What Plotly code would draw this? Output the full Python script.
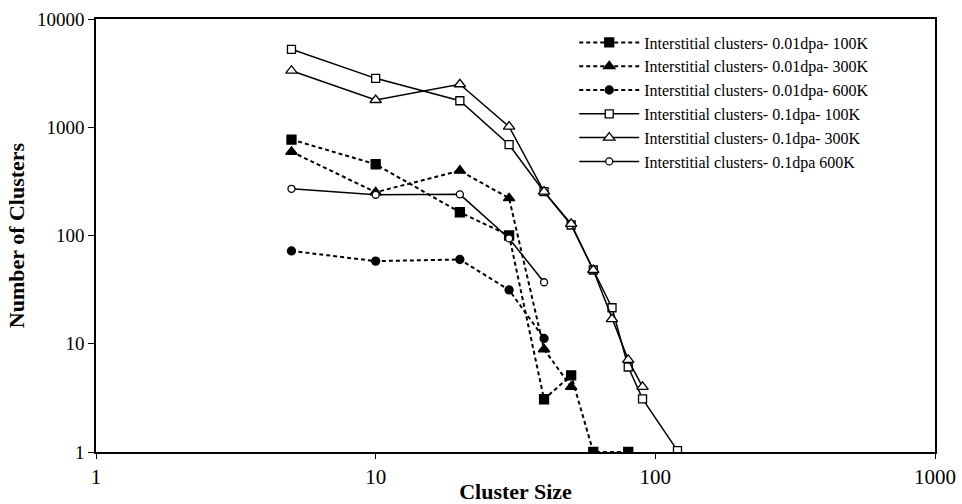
import plotly.graph_objects as go

# ---- data ----
names = [
    "Interstitial clusters- 0.01dpa- 100K",
    "Interstitial clusters- 0.01dpa- 300K",
    "Interstitial clusters- 0.01dpa- 600K",
    "Interstitial clusters- 0.1dpa- 100K",
    "Interstitial clusters- 0.1dpa- 300K",
    "Interstitial clusters- 0.1dpa 600K",
]
size_001_100 = [5, 10, 20, 30, 40, 50, 60, 80]
count_001_100 = [770, 455, 164, 100, 3.07, 5.1, 1, 1]
size_001_300 = [5, 10, 20, 30, 40, 50]
count_001_300 = [594, 251, 397, 221, 8.9, 4.0]
size_001_600 = [5, 10, 20, 30, 40]
count_001_600 = [72, 58, 60, 31.4, 11.2]
size_01_100 = [5, 10, 20, 30, 40, 50, 60, 70, 80, 90, 120]
count_01_100 = [5250, 2830, 1758, 690, 254, 125, 48, 21.5, 6.1, 3.1, 1.03]
size_01_300 = [5, 10, 20, 30, 40, 50, 60, 70, 80, 90]
count_01_300 = [3330, 1786, 2495, 1012, 254, 128, 48, 16.9, 7.1, 4.0]
size_01_600 = [5, 10, 20, 30, 40]
count_01_600 = [270, 238, 240, 94, 37]

x_tickvals = [1, 10, 100, 1000]
x_ticktext = ["1", "10", "100", "1000"]
y_tickvals = [1, 10, 100, 1000, 10000]
y_ticktext = ["1", "10", "100", "1000", "10000"]

series = [
    (size_001_100, count_001_100, "square", "black", 9, "4px,3px", 2),
    (size_001_300, count_001_300, "triangle-up", "black", 10, "4px,3px", 2),
    (size_001_600, count_001_600, "circle", "black", 8, "4px,3px", 2),
    (size_01_100, count_01_100, "square", "white", 8, "solid", 1.5),
    (size_01_300, count_01_300, "triangle-up", "white", 10, "solid", 1.5),
    (size_01_600, count_01_600, "circle", "white", 7, "solid", 1.5),
]

fig = go.Figure()
for name, (xs, ys, sym, fill, msize, dash, lw) in zip(names, series):
    fig.add_trace(go.Scatter(
        x=xs, y=ys, name=name, mode="lines+markers",
        line=dict(color="black", width=lw, dash=dash),
        marker=dict(symbol=sym, size=msize, color=fill,
                    line=dict(color="black", width=1.3)),
    ))

font_family = "Liberation Serif, Times New Roman, serif"
fig.update_layout(
    width=962, height=504,
    margin=dict(l=96, r=27, t=19, b=52),
    paper_bgcolor="white", plot_bgcolor="white",
    font=dict(family=font_family, size=17, color="black"),
    showlegend=True,
    legend=dict(x=0.57, y=0.985, xanchor="left", yanchor="top",
                bgcolor="rgba(0,0,0,0)", borderwidth=0,
                font=dict(family=font_family, size=16, color="black"),
                itemwidth=60, tracegroupgap=0),
)
fig.update_xaxes(
    type="log", range=[0, 3], tickvals=x_tickvals, ticktext=x_ticktext,
    showgrid=False, zeroline=False, showline=True, linecolor="black",
    linewidth=1.5, mirror=True, ticks="outside", ticklen=5, tickcolor="black",
    tickfont=dict(size=21), ticklabelstandoff=0, automargin=False,
    title=dict(text="<b>Cluster Size</b>", font=dict(size=22), standoff=0),
)
fig.update_yaxes(
    type="log", range=[0, 4], tickvals=y_tickvals, ticktext=y_ticktext,
    showgrid=False, zeroline=False, showline=True, linecolor="black",
    linewidth=1.5, mirror=True, ticks="outside", ticklen=6, tickcolor="black",
    tickfont=dict(size=19), automargin=False,
    title=dict(text="<b>Number of Clusters</b>", font=dict(size=22), standoff=6),
)

fig.write_html("out.html")
